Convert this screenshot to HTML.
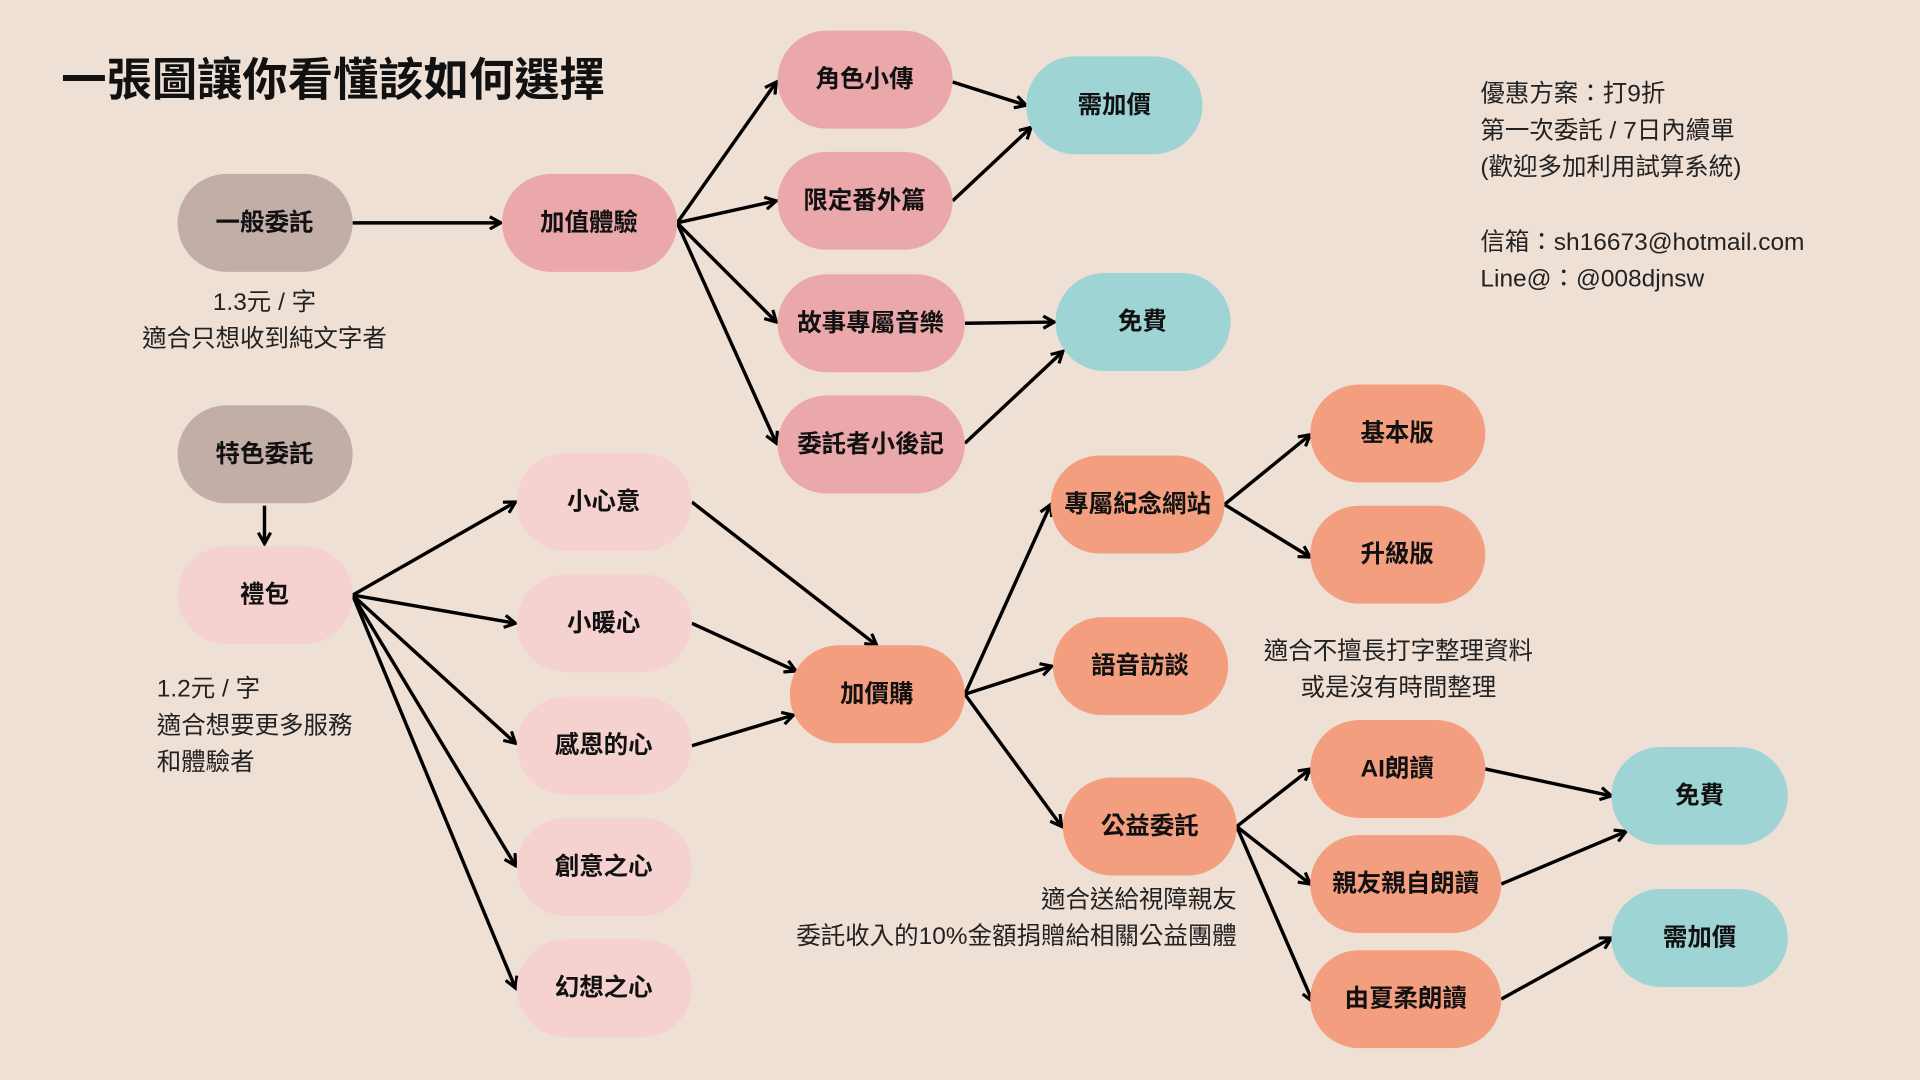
<!DOCTYPE html>
<html><head><meta charset="utf-8"><style>
html,body{margin:0;padding:0;background:#efe0d5;}
svg{display:block}
text{font-family:"Liberation Sans","Noto Sans CJK TC",sans-serif;}
.n{font-weight:bold;font-size:20px;fill:#111;text-anchor:middle;dominant-baseline:central}
.t{font-size:20px;fill:#222}
</style></head><body>
<svg width="1920" height="1080" viewBox="0 0 1568 882" xmlns="http://www.w3.org/2000/svg">
<defs><marker id="a" markerWidth="12" markerHeight="12" refX="10" refY="6" orient="auto" markerUnits="userSpaceOnUse"><path d="M1,1 L10,6 L1,11" fill="none" stroke="#000" stroke-width="2.6" stroke-linejoin="miter"/></marker></defs>
<rect width="1568" height="882" fill="#efe0d5"/>
<text x="50" y="78" font-size="37" font-weight="bold" fill="#111">一張圖讓你看懂該如何選擇</text>
<g class="t">
<text x="1209" y="83">優惠方案：打9折</text>
<text x="1209" y="113">第一次委託 / 7日內續單</text>
<text x="1209" y="143">(歡迎多加利用試算系統)</text>
<text x="1209" y="204">信箱：sh16673@hotmail.com</text>
<text x="1209" y="234">Line@：@008djnsw</text>
<text x="216" y="253" text-anchor="middle">1.3元 / 字</text>
<text x="216" y="283" text-anchor="middle">適合只想收到純文字者</text>
<text x="128" y="569">1.2元 / 字</text>
<text x="128" y="599">適合想要更多服務</text>
<text x="128" y="629">和體驗者</text>
<text x="1142" y="538" text-anchor="middle">適合不擅長打字整理資料</text>
<text x="1142" y="568" text-anchor="middle">或是沒有時間整理</text>
<text x="1010" y="741" text-anchor="end">適合送給視障親友</text>
<text x="1010" y="771" text-anchor="end">委託收入的10%金額捐贈給相關公益團體</text>
</g>
<g stroke="#000" stroke-width="2.8" fill="none" marker-end="url(#a)">
<line x1="288" y1="182" x2="409" y2="182"/>
<line x1="553" y1="182" x2="634" y2="67"/>
<line x1="553" y1="182" x2="634" y2="164"/>
<line x1="553" y1="182" x2="634" y2="263"/>
<line x1="553" y1="182" x2="634" y2="362"/>
<line x1="778" y1="67" x2="838" y2="86"/>
<line x1="778" y1="164" x2="842" y2="104"/>
<line x1="788" y1="264" x2="861" y2="263"/>
<line x1="788" y1="362" x2="868" y2="287"/>
<line x1="216" y1="413" x2="216" y2="444"/>
<line x1="288" y1="486" x2="421" y2="410"/>
<line x1="288" y1="486" x2="421" y2="509"/>
<line x1="288" y1="486" x2="421" y2="607"/>
<line x1="288" y1="486" x2="421" y2="707"/>
<line x1="288" y1="486" x2="421" y2="807"/>
<line x1="565" y1="410" x2="716" y2="527"/>
<line x1="565" y1="509" x2="650" y2="548"/>
<line x1="565" y1="609" x2="648" y2="584"/>
<line x1="788" y1="567" x2="858" y2="412"/>
<line x1="788" y1="567" x2="859" y2="544"/>
<line x1="788" y1="567" x2="867" y2="675"/>
<line x1="1000" y1="412" x2="1070" y2="355"/>
<line x1="1000" y1="412" x2="1070" y2="455"/>
<line x1="1010" y1="675" x2="1070" y2="628"/>
<line x1="1010" y1="675" x2="1070" y2="722"/>
<line x1="1010" y1="675" x2="1072" y2="818"/>
<line x1="1213" y1="628" x2="1316" y2="650"/>
<line x1="1226" y1="722" x2="1328" y2="679"/>
<line x1="1226" y1="816" x2="1316" y2="766"/>
</g>
<g>
<rect x="145" y="142" width="143" height="80" rx="40" fill="#c2aea6"/><text class="n" x="216" y="182">一般委託</text>
<rect x="410" y="142" width="143" height="80" rx="40" fill="#eba8ab"/><text class="n" x="481" y="182">加值體驗</text>
<rect x="635" y="25" width="143" height="80" rx="40" fill="#eba8ab"/><text class="n" x="706" y="65">角色小傳</text>
<rect x="635" y="124" width="143" height="80" rx="40" fill="#eba8ab"/><text class="n" x="706" y="164">限定番外篇</text>
<rect x="635" y="224" width="153" height="80" rx="40" fill="#eba8ab"/><text class="n" x="711" y="264">故事專屬音樂</text>
<rect x="635" y="323" width="153" height="80" rx="40" fill="#eba8ab"/><text class="n" x="711" y="363">委託者小後記</text>
<rect x="838" y="46" width="144" height="80" rx="40" fill="#9fd4d5"/><text class="n" x="910" y="86">需加價</text>
<rect x="862" y="223" width="143" height="80" rx="40" fill="#9fd4d5"/><text class="n" x="933" y="263">免費</text>
<rect x="145" y="331" width="143" height="80" rx="40" fill="#c2aea6"/><text class="n" x="216" y="371">特色委託</text>
<rect x="145" y="446" width="143" height="80" rx="40" fill="#f5d2cf"/><text class="n" x="216" y="486">禮包</text>
<rect x="422" y="370" width="143" height="80" rx="40" fill="#f5d2cf"/><text class="n" x="493" y="410">小心意</text>
<rect x="422" y="469" width="143" height="80" rx="40" fill="#f5d2cf"/><text class="n" x="493" y="509">小暖心</text>
<rect x="422" y="569" width="143" height="80" rx="40" fill="#f5d2cf"/><text class="n" x="493" y="609">感恩的心</text>
<rect x="422" y="668" width="143" height="80" rx="40" fill="#f5d2cf"/><text class="n" x="493" y="708">創意之心</text>
<rect x="422" y="767" width="143" height="80" rx="40" fill="#f5d2cf"/><text class="n" x="493" y="807">幻想之心</text>
<rect x="645" y="527" width="143" height="80" rx="40" fill="#f49e80"/><text class="n" x="716" y="567">加價購</text>
<rect x="858" y="372" width="142" height="80" rx="40" fill="#f49e80"/><text class="n" x="929" y="412">專屬紀念網站</text>
<rect x="860" y="504" width="143" height="80" rx="40" fill="#f49e80"/><text class="n" x="931" y="544">語音訪談</text>
<rect x="868" y="635" width="142" height="80" rx="40" fill="#f49e80"/><text class="n" x="939" y="675">公益委託</text>
<rect x="1070" y="314" width="143" height="80" rx="40" fill="#f49e80"/><text class="n" x="1141" y="354">基本版</text>
<rect x="1070" y="413" width="143" height="80" rx="40" fill="#f49e80"/><text class="n" x="1141" y="453">升級版</text>
<rect x="1070" y="588" width="143" height="80" rx="40" fill="#f49e80"/><text class="n" x="1141" y="628">AI朗讀</text>
<rect x="1070" y="682" width="156" height="80" rx="40" fill="#f49e80"/><text class="n" x="1148" y="722">親友親自朗讀</text>
<rect x="1070" y="776" width="156" height="80" rx="40" fill="#f49e80"/><text class="n" x="1148" y="816">由夏柔朗讀</text>
<rect x="1316" y="610" width="144" height="80" rx="40" fill="#9fd4d5"/><text class="n" x="1388" y="650">免費</text>
<rect x="1316" y="726" width="144" height="80" rx="40" fill="#9fd4d5"/><text class="n" x="1388" y="766">需加價</text>
</g>
</svg>
</body></html>
